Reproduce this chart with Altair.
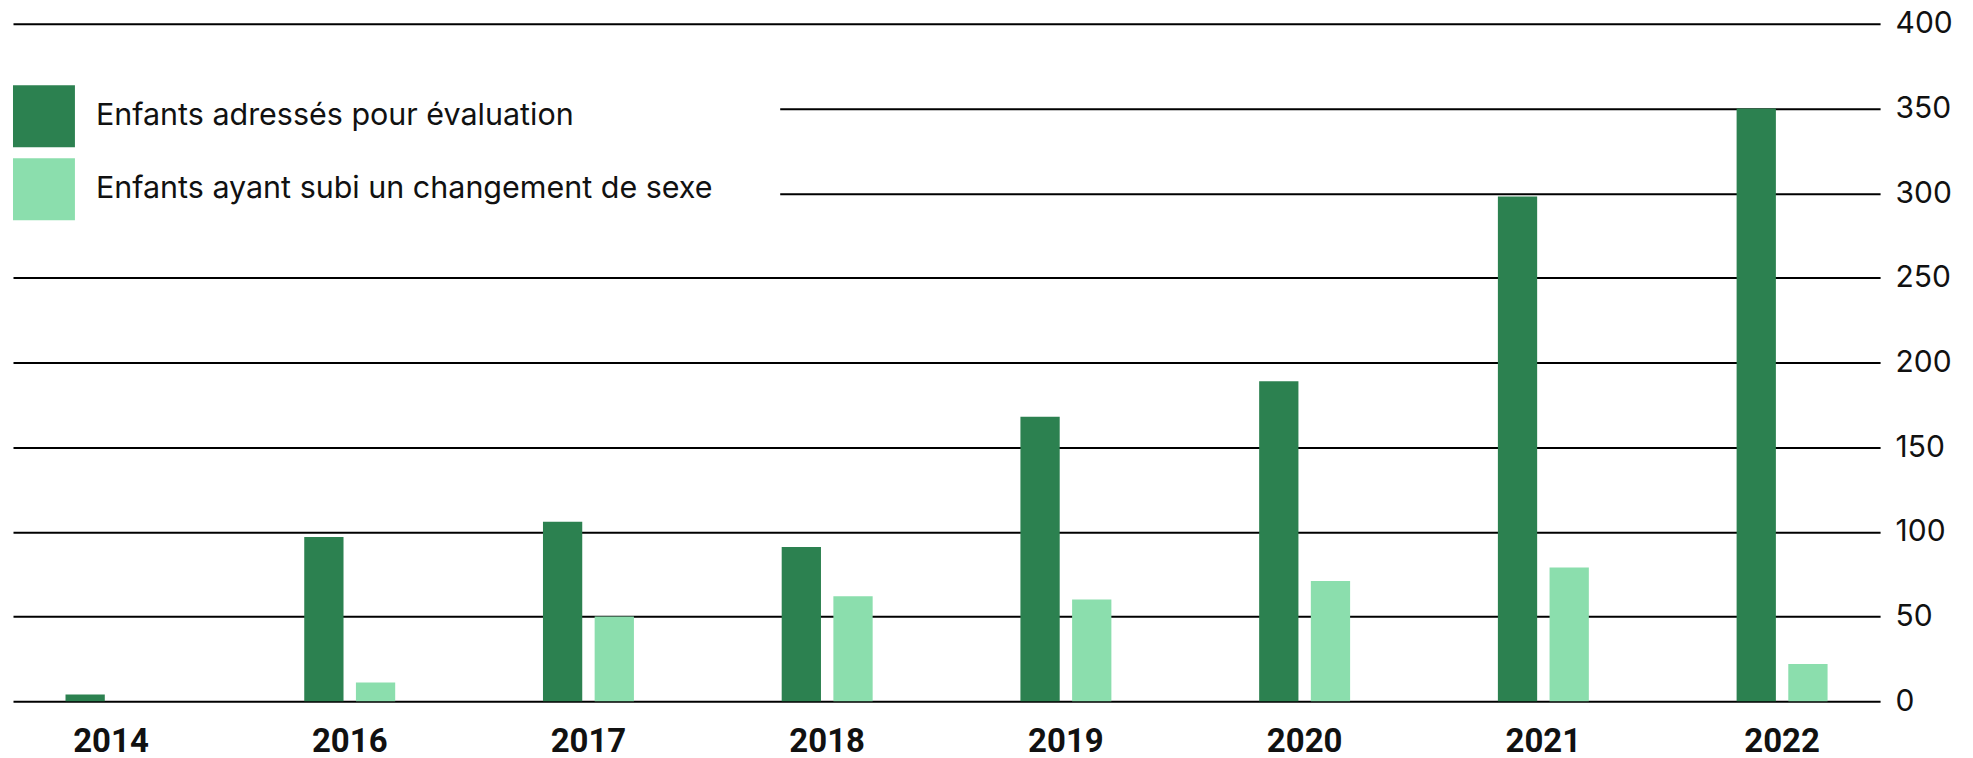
import altair as alt
import pandas as pd

years = ["2014", "2016", "2017", "2018", "2019", "2020", "2021", "2022"]
referred = [4, 97, 106, 91, 168, 189, 298, 350]
transitioned = [None, 11, 50, 62, 60, 71, 79, 22]
series = ["Enfants adressés pour évaluation", "Enfants ayant subi un changement de sexe"]
colors = ["#2C8150", "#8BDEAD"]
y_ticks = [0, 50, 100, 150, 200, 250, 300, 350, 400]

rows = []
for yr, a, b in zip(years, referred, transitioned):
    rows.append({"year": yr, "series": series[0], "value": a})
    rows.append({"year": yr, "series": series[1], "value": b})
df = pd.DataFrame(rows)

bars = alt.Chart(df).mark_bar().encode(
    x=alt.X(
        "year:N",
        sort=years,
        scale=alt.Scale(paddingInner=0.619, paddingOuter=0.22),
        axis=alt.Axis(
            title=None, labelAngle=0, domain=False, ticks=False, grid=False,
            labelFont="Roboto", labelFontSize=33, labelFontWeight="bold",
            labelColor="#111111", labelBaseline="alphabetic", labelPadding=50,
        ),
    ),
    xOffset=alt.XOffset("series:N", sort=series, scale=alt.Scale(paddingInner=0.24, paddingOuter=0)),
    y=alt.Y(
        "value:Q",
        scale=alt.Scale(domain=[0, 400], nice=False),
        axis=alt.Axis(
            title=None, orient="right", values=y_ticks, domain=False, ticks=False,
            grid=True, gridColor="#000000", gridWidth=2, gridOpacity=1,
            labelPadding=15, labelFont="Inter", labelFontSize=30, labelColor="#111111",
        ),
    ),
    color=alt.Color(
        "series:N",
        sort=series,
        scale=alt.Scale(domain=series, range=colors),
        legend=alt.Legend(
            title=None, orient="none", legendX=0, legendY=61.5,
            symbolType="square", symbolSize=3844, symbolStrokeWidth=0, symbolOpacity=1,
            labelFont="Inter", labelFontSize=30.5, labelColor="#111111",
            labelOffset=21, rowPadding=11, labelLimit=1000,
        ),
    ),
)

legend_bg = alt.Chart(pd.DataFrame({"k": [0]})).mark_rect(color="white").encode(
    x=alt.value(0), x2=alt.value(768), y=alt.value(40), y2=alt.value(230)
)

chart = alt.layer(legend_bg, bars).properties(
    width=1869,
    height=678,
    autosize=alt.AutoSizeParams(type="none"),
    padding={"left": 5, "top": 15.5, "right": 85, "bottom": 57},
).configure_view(stroke="transparent")

chart.save("out.html", embed_options={"renderer": "svg", "actions": False})
